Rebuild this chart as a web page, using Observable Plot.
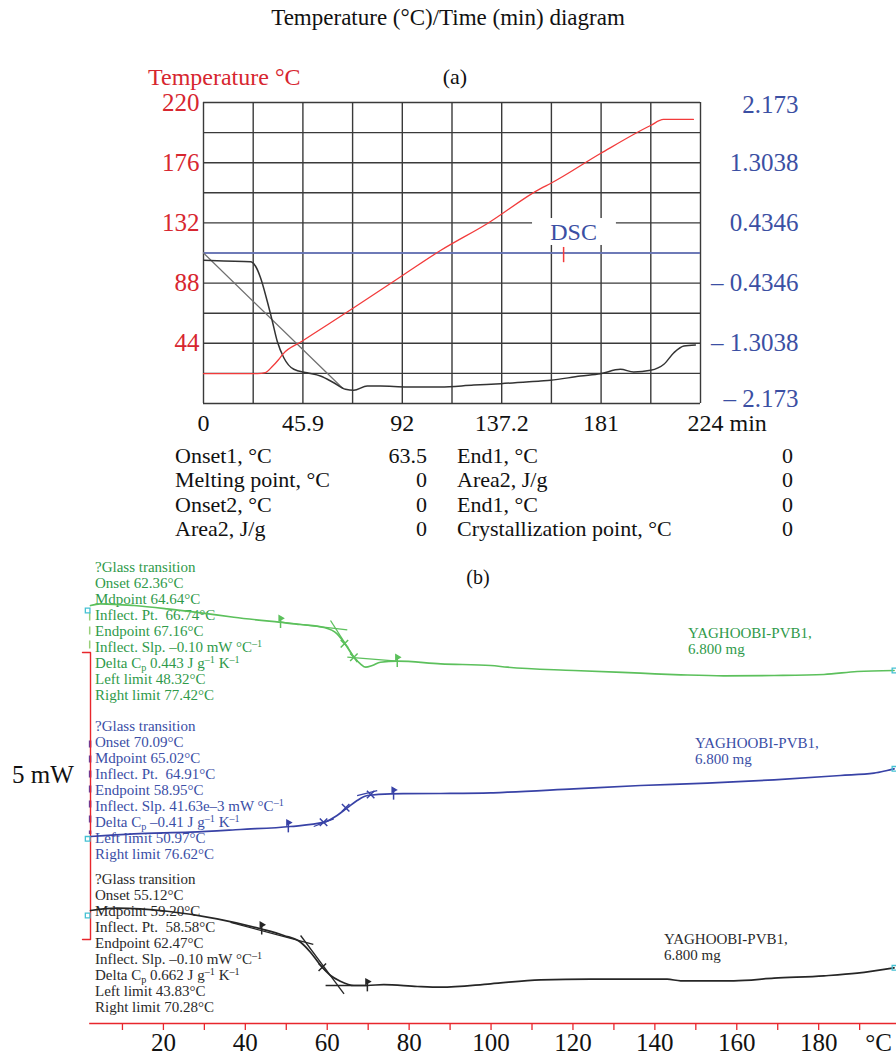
<!DOCTYPE html>
<html><head><meta charset="utf-8">
<script src="https://cdn.jsdelivr.net/npm/d3@7"></script>
<script src="https://cdn.jsdelivr.net/npm/@observablehq/plot@0.6"></script>
<style>
body{margin:0;background:#fff;}
#root{position:relative;width:896px;height:1063px;font-family:"Liberation Serif","Times New Roman",serif;overflow:hidden;background:#fff;}
.abs{position:absolute;white-space:nowrap;}
.ann div{height:16px;line-height:16px;font-size:15px;white-space:nowrap;}
sup{font-size:0.68em;vertical-align:0.45em;line-height:0}
sub{font-size:0.68em;vertical-align:-0.3em;line-height:0}
</style></head><body><div id="root"></div><script>
// ---------- Panel (a) data ----------
const timeTicks = [0, 44.8, 89.6, 134.4, 179.2, 224];
const timeTickLabels = ["0", "45.9", "92", "137.2", "181", "224 min"];
const tempTicks = [220, 176, 132, 88, 44];
const dscTicks = [2.173, 1.3038, 0.4346, -0.4346, -1.3038, -2.173];
const tempTime  = [0, 24.3, 27.9, 31, 33.8, 36, 44.2, 67.2, 89.7, 106.8, 128, 151.9, 156.4, 178.9, 201.5, 207.3, 220.8];
const tempValue = [21.9, 21.9, 22.6, 27, 32, 36.5, 45.3, 69.4, 93.6, 111.8, 131.6, 157.1, 160.8, 182.7, 203.2, 207.6, 207.6];
const dscTime  = [0.1, 9.1, 21.2, 23.4, 25.7, 28.7, 31, 33.2, 36.2, 40.7, 46.7, 52.7, 58.7, 64, 67.7, 73.8, 79.8, 91.8, 106.8, 121.8, 133.9, 151.9, 156.4, 169.9, 178.9, 187.9, 193.9, 201.5, 207.5, 212, 216.5, 221.7];
const dscValue = [-0.105, -0.116, -0.126, -0.188, -0.357, -0.693, -0.982, -1.271, -1.512, -1.679, -1.729, -1.776, -1.873, -1.968, -1.983, -1.921, -1.921, -1.935, -1.935, -1.906, -1.887, -1.848, -1.838, -1.776, -1.743, -1.679, -1.718, -1.694, -1.607, -1.440, -1.343, -1.328];
const baselineTime = [0, 62.6];
const baselineDsc = [0, -1.95];
const dscLabel = {t: 166.8, T: 125, text: "DSC"};
const dscMarker = {t: 162.3, top: 0.08, bottom: -0.14};
const tableLeftLabels = ["Onset1, °C", "Melting point, °C", "Onset2, °C", "Area2, J/g"];
const tableLeftValues = ["63.5", "0", "0", "0"];
const tableRightLabels = ["End1, °C", "Area2, J/g", "End1, °C", "Crystallization point, °C"];
const tableRightValues = ["0", "0", "0", "0"];

// ---------- Panel (b) data ----------
const axisTicks = [10, 20, 30, 40, 50, 60, 70, 80, 90, 100, 110, 120, 130, 140, 150, 160, 170, 180, 190];
const axisLabels = [20, 40, 60, 80, 100, 120, 140, 160, 180];
const greenTemp = [2.2, 4.6, 12.8, 20.9, 29.1, 37.2, 48.2, 53.5, 59.2, 62.4, 64.9, 66.5, 68.1, 69.4, 71.0, 73.0, 77.1, 87.7, 99.9, 104, 120.2, 136.5, 146.3, 156.8, 169.1, 181.3, 189.4, 198.4];
const greenFlow = [7.282, 7.312, 7.282, 7.225, 7.155, 7.078, 6.991, 6.951, 6.899, 6.789, 6.556, 6.382, 6.266, 6.207, 6.237, 6.294, 6.312, 6.266, 6.237, 6.207, 6.150, 6.103, 6.075, 6.057, 6.063, 6.080, 6.132, 6.150];
const blueTemp = [2.2, 12.8, 26.6, 38.8, 51.0, 59.2, 62.4, 64.9, 67.3, 69.8, 75.5, 87.7, 99.9, 104, 120.2, 136.5, 152.8, 169.1, 185.3, 193.5, 196.7, 198.4];
const blueFlow = [3.258, 3.305, 3.333, 3.380, 3.432, 3.507, 3.624, 3.758, 3.885, 3.972, 4.002, 4.007, 4.019, 4.030, 4.089, 4.146, 4.186, 4.246, 4.321, 4.361, 4.408, 4.437];
const blackTemp = [2.2, 8.7, 20.9, 33.1, 43.7, 49.4, 53.5, 55.9, 58.4, 60.8, 63.2, 66.5, 69.8, 73.8, 82.0, 87.7, 99.9, 112.1, 124.3, 143.0, 146.3, 159.3, 169.1, 181.3, 189.4, 198.4];
const blackFlow = [1.969, 2.009, 1.956, 1.824, 1.650, 1.533, 1.416, 1.242, 1.010, 0.836, 0.737, 0.662, 0.662, 0.679, 0.645, 0.632, 0.692, 0.761, 0.772, 0.772, 0.744, 0.744, 0.789, 0.831, 0.876, 0.970];
const greenTangents = [[48.6, 6.991, 64.9, 6.859], [60.8, 7.021, 67.3, 6.294], [64.9, 6.382, 77.1, 6.312]];
const greenCrosses = [[64.2, 6.615], [66.5, 6.382]];
const greenFlags = [[48.6, 6.99], [77.1, 6.31]];
const blueTangents = [[56.7, 3.432, 61.6, 3.566], [67.3, 3.972, 72.2, 4.059]];
const blueCrosses = [[59.1, 3.507], [64.5, 3.758], [70.6, 3.99]];
const blueFlags = [[50.5, 3.43], [76.2, 4.0]];
const blackTangents = [[36.4, 1.76, 56.6, 1.38], [53.5, 1.533, 64.1, 0.516], [59.6, 0.662, 69.8, 0.662]];
const blackCrosses = [[58.8, 0.98]];
const blackFlags = [[44.0, 1.65], [69.8, 0.66]];
const startMarks = [[1.5, 7.195], [1.5, 3.218], [1.5, 1.882]];
const endMarks = [[198.5, 6.150], [198.5, 4.437], [198.5, 0.970]];
const scaleBar = [[0.25, 6.463], [2.2, 6.463], [2.2, 1.463], [0.25, 1.463]];
const scaleBarLabel = "5 mW";
const greenNotes = ["?Glass transition", "Onset 62.36°C", "Mdpoint 64.64°C", "Inflect. Pt.&nbsp; 66.74°C", "Endpoint 67.16°C", "Inflect. Slp. –0.10 mW °C^{–1}", "Delta C_{p} 0.443 J g^{–1} K^{–1}", "Left limit 48.32°C", "Right limit 77.42°C"];
const blueNotes = ["?Glass transition", "Onset 70.09°C", "Mdpoint 65.02°C", "Inflect. Pt.&nbsp; 64.91°C", "Endpoint 58.95°C", "Inflect. Slp. 41.63e–3 mW °C^{–1}", "Delta C_{p} –0.41 J g^{–1} K^{–1}", "Left limit 50.97°C", "Right limit 76.62°C"];
const blackNotes = ["?Glass transition", "Onset 55.12°C", "Mdpoint 59.20°C", "Inflect. Pt.&nbsp; 58.58°C", "Endpoint 62.47°C", "Inflect. Slp. –0.10 mW °C^{–1}", "Delta C_{p} 0.662 J g^{–1} K^{–1}", "Left limit 43.83°C", "Right limit 70.28°C"];
const sampleLabel = ["YAGHOOBI-PVB1,", "6.800 mg"];

// ---------- styling ----------
const FONT = '"Liberation Serif","Times New Roman",serif';
const RED = "#d7262f", BLUE = "#3b4fa3", TEMPLINE = "#f23b3b";
const AXRED = "#e8262c";
const GREEN_LINE = "#5cc05c", GREEN_TEXT = "#2f9a4a";
const BLUE_LINE = "#3842a6", BLUE_TEXT = "#3a4ea6";
const BLACK_LINE = "#262626", BLACK_TEXT = "#2a2a2a";
const CYAN = "#45c1d3";

const root = document.getElementById("root");
function addText(html, css) {
  const d = document.createElement("div");
  d.className = "abs";
  d.innerHTML = html;
  Object.assign(d.style, css);
  root.appendChild(d);
  return d;
}
function place(svg, top) {
  svg.style.position = "absolute";
  svg.style.left = "0px";
  svg.style.top = top + "px";
  root.appendChild(svg);
}
const fmt = s => s.replace(/\^\{([^}]*)\}/g, "<sup>$1</sup>").replace(/_\{([^}]*)\}/g, "<sub>$1</sub>");

// ---------- Header texts ----------
addText("Temperature (°C)/Time (min) diagram", {left: "0px", top: "4px", width: "896px", textAlign: "center", fontSize: "23px", lineHeight: "28px", color: "#111"});
addText("Temperature °C", {left: "148px", top: "63px", fontSize: "24px", lineHeight: "28px", color: RED});
addText("(a)", {left: "405px", top: "63px", width: "100px", textAlign: "center", fontSize: "22px", lineHeight: "28px", color: "#111"});

// ---------- Panel (a) ----------
const gridTime = d3.range(0, 224.001, 22.4);
const gridTemp = d3.range(0, 220.001, 22);
const dscToTemp = d => 110 + d * 110 / 2.173;
const tempSeries = tempTime.map((t, i) => ({t, v: tempValue[i]}));
const dscSeries = dscTime.map((t, i) => ({t, v: dscToTemp(dscValue[i])}));
const baseSeries = baselineTime.map((t, i) => ({t, v: dscToTemp(baselineDsc[i])}));
const dscFmt = d => d < 0 ? "– " + Math.abs(d) : String(d);

const pa = Plot.plot({
  width: 896, height: 440,
  marginTop: 102, marginBottom: 37, marginLeft: 203, marginRight: 196,
  x: {domain: [0, 224], axis: null},
  y: {domain: [0, 220], axis: null},
  style: {fontFamily: FONT, fontSize: "25px", background: "transparent", overflow: "visible", color: "#111"},
  marks: [
    Plot.ruleX(gridTime, {stroke: "#3a3a3a", strokeWidth: 1.4}),
    Plot.ruleY(gridTemp, {stroke: "#3a3a3a", strokeWidth: 1.4}),
    Plot.rect([dscLabel], {x1: d => d.t - 18.5, x2: d => d.t + 19.3, y1: d => d.T - 9.5, y2: d => d.T + 10.2, fill: "white"}),
    Plot.ruleY([0], {y: d => dscToTemp(d), stroke: "#6f7fd0", strokeWidth: 1.4}),
    Plot.ruleX([dscMarker], {x: "t", y1: d => dscToTemp(d.top), y2: d => dscToTemp(d.bottom), stroke: TEMPLINE, strokeWidth: 1.5}),
    Plot.line(baseSeries, {x: "t", y: "v", stroke: "#707070", strokeWidth: 1.3}),
    Plot.line(dscSeries, {x: "t", y: "v", stroke: "#333", strokeWidth: 1.5, curve: "monotone-x"}),
    Plot.line(tempSeries, {x: "t", y: "v", stroke: TEMPLINE, strokeWidth: 1.3, curve: "monotone-x"}),
    Plot.text([dscLabel], {x: "t", y: "T", text: "text", fill: BLUE, fontSize: 24}),
    Plot.text(tempTicks, {y: d => d, frameAnchor: "left", dx: -4, textAnchor: "end", fill: RED, fontSize: 25}),
    Plot.text(dscTicks.slice(0, 1), {y: d => dscToTemp(d), frameAnchor: "right", dx: 98, dy: 2, textAnchor: "end", fill: BLUE, fontSize: 25, text: dscFmt}),
    Plot.text(dscTicks.slice(1, -1), {y: d => dscToTemp(d), frameAnchor: "right", dx: 98, textAnchor: "end", fill: BLUE, fontSize: 25, text: dscFmt}),
    Plot.text(dscTicks.slice(-1), {y: d => dscToTemp(d), frameAnchor: "right", dx: 98, dy: -5, textAnchor: "end", fill: BLUE, fontSize: 25, text: dscFmt}),
    Plot.text(timeTicks.slice(0, -1), {x: d => d, frameAnchor: "bottom", dy: 27, fontSize: 24, fill: "#111",
      text: (d, i) => timeTickLabels[i]}),
    Plot.text(timeTicks.slice(-1), {x: d => d, frameAnchor: "bottom", dy: 27, dx: -13, textAnchor: "start", fontSize: 24, fill: "#111",
      text: () => timeTickLabels[timeTickLabels.length - 1]})
  ]
});
place(pa, 0);

// ---------- Table ----------
tableLeftLabels.forEach((s, i) => {
  const top = 444 + i * 24.3;
  const css = {fontSize: "22px", lineHeight: "24px", top: top + "px", color: "#111"};
  addText(s, {...css, left: "175px"});
  addText(tableLeftValues[i], {...css, right: (896 - 427) + "px", textAlign: "right"});
  addText(tableRightLabels[i], {...css, left: "457px"});
  addText(tableRightValues[i], {...css, right: (896 - 793) + "px", textAlign: "right"});
});

addText("(b)", {left: "428px", top: "565px", width: "100px", textAlign: "center", fontSize: "20px", lineHeight: "24px", color: "#111"});

// ---------- Panel (b) ----------
const pts = (xs, ys) => xs.map((x, i) => ({x, y: ys[i]}));
function curveMarks(temp, flowv, tangents, crosses, flags, color) {
  return [
    Plot.link(tangents, {x1: d => d[0], y1: d => d[1], x2: d => d[2], y2: d => d[3], stroke: color, strokeWidth: 1.3}),
    Plot.line(pts(temp, flowv), {x: "x", y: "y", stroke: color, strokeWidth: 1.7, curve: "monotone-x"}),
    Plot.dot(crosses, {x: d => d[0], y: d => d[1], symbol: "times", r: 3.5, stroke: color, strokeWidth: 1.5}),
    Plot.link(flags, {x1: d => d[0], x2: d => d[0], y1: d => d[1] - 0.1, y2: d => d[1] + 0.1, stroke: color, strokeWidth: 1.5}),
    Plot.dot(flags, {x: d => d[0], y: d => d[1] + 0.07, symbol: "triangle", r: 1.8, fill: color, stroke: color, rotate: 90})
  ];
}
const pb = Plot.plot({
  width: 896, height: 508,
  marginTop: 0, marginBottom: 40, marginLeft: 81, marginRight: 0,
  x: {domain: [0, 199]},
  y: {domain: [0, 468 / 57.4], axis: null},
  style: {fontFamily: FONT, fontSize: "25px", background: "transparent", overflow: "visible", color: "#111"},
  marks: [
    Plot.link([[2.0, 7.16, 2.0, 6.5]], {x1: d => d[0], y1: d => d[1], x2: d => d[2], y2: d => d[3], stroke: "#9ad07a", strokeWidth: 1.5, strokeDasharray: "8,6"}),
    Plot.link([[2.1, 4.93, 2.1, 3.3]], {x1: d => d[0], y1: d => d[1], x2: d => d[2], y2: d => d[3], stroke: "#5a3fa6", strokeWidth: 2.5, strokeDasharray: "7,8"}),
    Plot.line(scaleBar, {x: d => d[0], y: d => d[1], stroke: AXRED, strokeWidth: 1.4}),
    ...curveMarks(greenTemp, greenFlow, greenTangents, greenCrosses, greenFlags, GREEN_LINE),
    ...curveMarks(blueTemp, blueFlow, blueTangents, blueCrosses, blueFlags, BLUE_LINE),
    ...curveMarks(blackTemp, blackFlow, blackTangents, blackCrosses, blackFlags, BLACK_LINE),
    Plot.dot(startMarks.concat(endMarks), {x: d => d[0], y: d => d[1], symbol: "square", r: 2.6, stroke: CYAN, strokeWidth: 1.3, fill: "none"}),
    Plot.ruleY([0], {x1: 2, x2: 199, stroke: AXRED, strokeWidth: 1.4}),
    Plot.axisX(axisTicks, {tickSize: 7, stroke: AXRED, strokeWidth: 1.3, fill: "none", label: null}),
    Plot.text(axisLabels, {x: d => d, frameAnchor: "bottom", dy: 27, fontSize: 25, fill: "#111"}),
    Plot.text(["°C"], {x: () => 194.6, frameAnchor: "bottom", dy: 27, fontSize: 25, fill: "#111"})
  ]
});
place(pb, 555);

// ---------- Panel (b) annotations ----------
function notes(lines, left, top, color) {
  const d = document.createElement("div");
  d.className = "abs ann";
  Object.assign(d.style, {left: left + "px", top: top + "px", color});
  d.innerHTML = lines.map(s => "<div>" + fmt(s) + "</div>").join("");
  root.insertBefore(d, root.firstChild);
}
notes(greenNotes, 95, 559, GREEN_TEXT);
notes(blueNotes, 95, 718, BLUE_TEXT);
notes(blackNotes, 95, 871, BLACK_TEXT);
notes(sampleLabel, 688, 625, GREEN_TEXT);
notes(sampleLabel, 695, 735, BLUE_TEXT);
notes(sampleLabel, 664, 931, BLACK_TEXT);
addText(scaleBarLabel, {left: "12px", top: "760px", fontSize: "25px", lineHeight: "30px", color: "#111"});
</script></body></html>
